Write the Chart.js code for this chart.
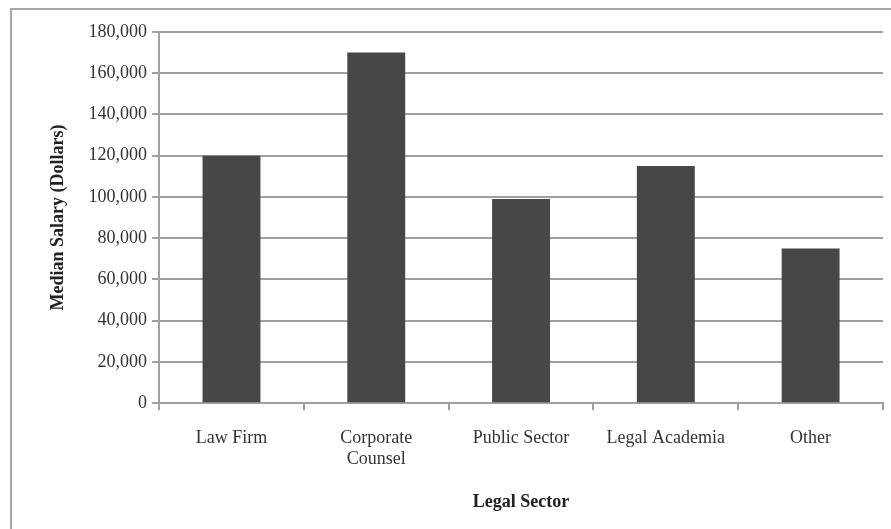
<!DOCTYPE html>
<html>
<head>
<meta charset="utf-8">
<script src="https://cdn.jsdelivr.net/npm/chart.js@4"></script>
<style>
  body { margin: 0; background: #fff; overflow: hidden; }
  #frame {
    position: absolute; left: 10px; top: 8px;
    border-top: 2px solid #a8a8a8; border-left: 2px solid #a8a8a8;
  }
  canvas { display: block; }
</style>
</head>
<body>
<div id="frame"><canvas id="chart" width="879" height="519"></canvas></div>
<script>
const categories = ["Law Firm", ["Corporate", "Counsel"], "Public Sector", "Legal Academia", "Other"];
const salaries = [120000, 170000, 99000, 115000, 75000];
const yTicks = [0, 20000, 40000, 60000, 80000, 100000, 120000, 140000, 160000, 180000];

const serif = "'Liberation Serif', 'DejaVu Serif', serif";

const ctx = document.getElementById("chart").getContext("2d");

const chart = new Chart(ctx, {
  type: "bar",
  data: {
    labels: categories,
    datasets: [{
      label: "Median Salary",
      data: salaries,
      backgroundColor: "#474747",
      borderWidth: 0,
      barPercentage: 0.8,
      categoryPercentage: 0.5
    }]
  },
  options: {
    responsive: false,
    animation: false,
    layout: { padding: { left: 32, right: 8, top: 22, bottom: 12 } },
    plugins: {
      legend: { display: false },
      tooltip: { enabled: false }
    },
    scales: {
      x: {
        grid: {
          drawOnChartArea: false,
          drawTicks: true,
          tickLength: 7,
          offset: true,
          color: "#a0a0a0",
          lineWidth: 2
        },
        border: { color: "#a0a0a0", width: 2 },
        ticks: {
          color: "#333",
          font: { family: serif, size: 18 },
          padding: 17,
          maxRotation: 0
        },
        title: {
          display: true,
          text: "Legal Sector",
          color: "#222",
          font: { family: serif, size: 18, weight: "bold" },
          padding: { top: 4 }
        }
      },
      y: {
        min: 0,
        max: 180000,
        afterBuildTicks: axis => { axis.ticks = yTicks.map(v => ({ value: v })); },
        grid: {
          color: "#a0a0a0",
          lineWidth: 2,
          tickLength: 7
        },
        border: { color: "#a0a0a0", width: 2 },
        ticks: {
          color: "#333",
          font: { family: serif, size: 18 },
          padding: 5,
          callback: v => v.toLocaleString("en-US")
        },
        title: {
          display: true,
          text: "Median Salary (Dollars)",
          color: "#222",
          font: { family: serif, size: 18, weight: "bold" },
          padding: { bottom: 14 }
        }
      }
    }
  }
});
</script>
</body>
</html>
